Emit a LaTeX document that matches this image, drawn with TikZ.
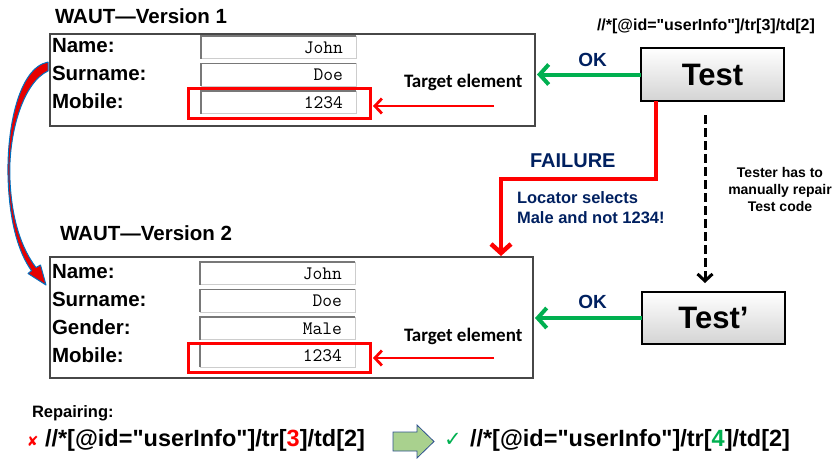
\documentclass[tikz,border=0pt]{standalone}
\usepackage{fontspec}
\setmainfont{Liberation Sans}
\newfontfamily\xpfont{Liberation Sans}[Ligatures=TeXOff]
\newfontfamily\calfont{Carlito}
\newfontfamily\symfont{DejaVu Sans}
\usetikzlibrary{arrows.meta}

\definecolor{navy}{RGB}{0,32,96}
\definecolor{okgreen}{RGB}{0,176,80}
\definecolor{curvered}{RGB}{230,0,0}
\definecolor{curveblue}{RGB}{0,112,192}
\definecolor{blockgreen}{RGB}{169,209,142}
\definecolor{blockedge}{RGB}{47,82,143}
\definecolor{fieldlight}{RGB}{205,205,205}
\definecolor{fielddark}{RGB}{120,120,120}

\newcommand\fsz[1]{\fontsize{#1}{#1}\selectfont}

% an input field: left x, top y, value, node name
\newcommand\inputfield[4]{%
  \filldraw[fill=white,draw=fieldlight,line width=1pt] (#1,#2) rectangle ({#1+155},{#2+22.5});
  \draw[fielddark,line width=1.6pt] (#1,{#2+22.5}) -- (#1,#2) -- ({#1+155},#2);
  \node[anchor=base east,font=\ttfamily\fsz{19}] (#4) at ({#1+142},{#2+17}) {#3};
}

\begin{document}
\begin{tikzpicture}[x=1pt,y=-1pt,
  every node/.style={inner sep=0pt,outer sep=0pt},
  formbox/.style={draw=black!72,line width=1.2pt,fill=white},
  targetbox/.style={draw=red,line width=3pt},
  testbox/.style={draw=black,line width=1.6pt,top color=white,bottom color=black!17,
    font=\bfseries\fsz{31}},
  title/.style={anchor=base west,font=\bfseries\fsz{20.5}},
  flabel/.style={anchor=base west,font=\bfseries\fsz{20.5}},
  tgtlabel/.style={anchor=base west,font=\calfont\bfseries\fsz{19}},
  navytext/.style={text=navy,font=\bfseries\fsz{19}},
  note/.style={anchor=base,font=\bfseries\fsz{14}},
  xpath/.style={anchor=base west,font=\xpfont\bfseries\fsz{23.5}},
  okarrow/.style={draw=okgreen,line width=4pt,shorten >=2pt,
    -{Straight Barb[length=9pt,width=20pt]}},
  tgtarrow/.style={draw=red,line width=2.8pt,shorten >=3pt,
    -{Straight Barb[length=7pt,width=15pt]}},
  failarrow/.style={draw=red,line width=4.5pt,shorten >=1pt,
    -{Straight Barb[length=9pt,width=20pt]}},
  repairarrow/.style={draw=black,line width=3pt,dash pattern=on 9pt off 4pt,
    -{Straight Barb[length=7pt,width=15pt]}}
]
\useasboundingbox (0,0) rectangle (838,459);

% ---------- first version of the page ----------
\node[title] (v1title) at (55,23) {WAUT—Version 1};
\node[formbox,anchor=north west,minimum width=485pt,minimum height=92pt] (form1) at (50,34) {};
\node[flabel] (n1) at (52,52) {Name:};
\node[flabel] (s1) at (52,80) {Surname:};
\node[flabel] (m1) at (52,108) {Mobile:};
\inputfield{201}{36}{John}{fn1}
\inputfield{201}{63.5}{Doe}{fs1}
\inputfield{201}{91}{1234}{fm1}
\node[targetbox,anchor=north west,minimum width=182pt,minimum height=30pt] (t1) at (188,88) {};
\node[tgtlabel] (tl1) at (404,87) {Target element};
\coordinate (r1) at (494,106);
\draw[tgtarrow] (r1) -- (r1 -| t1.east);

% ---------- second version of the page ----------
\node[title] (v2title) at (60,240) {WAUT—Version 2};
\node[formbox,anchor=north west,minimum width=483pt,minimum height=121pt] (form2) at (50,257) {};
\node[flabel] (n2) at (52,278) {Name:};
\node[flabel] (s2) at (52,306) {Surname:};
\node[flabel] (g2) at (52,334) {Gender:};
\node[flabel] (m2) at (52,362) {Mobile:};
\inputfield{200}{262}{John}{fn2}
\inputfield{200}{289.5}{Doe}{fs2}
\inputfield{200}{317}{Male}{fg2}
\inputfield{200}{344.5}{1234}{fm2}
\node[targetbox,anchor=north west,minimum width=182pt,minimum height=29pt] (t2) at (188,343) {};
\node[tgtlabel] (tl2) at (404,341) {Target element};
\coordinate (r2) at (494,358);
\draw[tgtarrow] (r2) -- (r2 -| t2.east);

% ---------- curved arrow between the two versions ----------
\filldraw[fill=curvered,draw=curveblue,line width=1pt,line join=round]
  (48,62) .. controls (18,68) and (7,130) .. (8,175)
  .. controls (9,220) and (18,252) .. (31.5,270.7)
  -- (28,273.5) -- (46,285) -- (40.5,265) -- (36,267.5)
  .. controls (22,249) and (11,220) .. (9.8,175)
  .. controls (9,130) and (24,82) .. (48,71) -- cycle;

% ---------- tests ----------
\node[xpath,font=\xpfont\bfseries\fsz{16}] (xtop) at (597,30) {//*[@id="userInfo"]/tr[3]/td[2]};
\node[testbox,minimum width=143pt,minimum height=53pt] (test) at (712.5,74.5) {Test};
\node[testbox,minimum width=143pt,minimum height=52pt] (testp) at (713.5,318) {Test’};

\draw[okarrow] (test.west) -- (test.west -| form1.east);
\node[navytext,anchor=base] (ok1) at (592.5,66) {OK};
\draw[okarrow] (testp.west) -- (testp.west -| form2.east);
\node[navytext,anchor=base] (ok2) at (592.5,308) {OK};

\coordinate (fbend) at (501,179);
\draw[failarrow] ([xshift=15pt]test.south west) |- (fbend) -- (fbend |- form2.north);
\node[navytext,anchor=base west,font=\bfseries\fsz{20}] (fail) at (530,167) {FAILURE};
\node[anchor=base west,text=navy,font=\bfseries\fsz{16.5}] (loc1) at (517,203) {Locator selects};
\node[anchor=base west,text=navy,font=\bfseries\fsz{16.5}] (loc2) at (517,223) {Male and not 1234!};

\draw[repairarrow] ([shift={(-7.5,14)}]test.south) -- ([shift={(-8.5,-9)}]testp.north);
\node[note] (tn1) at (780,177) {Tester has to};
\node[note] (tn2) at (780,194) {manually repair};
\node[note] (tn3) at (780,211) {Test code};

% ---------- repairing the locator ----------
\node[anchor=base west,font=\bfseries\fsz{16.5}] (rep) at (32,417) {Repairing:};
\node[anchor=base west,text=red,font=\symfont\fsz{14}] (cross) at (27,446) {✘};
\node[xpath] (xold) at (45,446) {//*[@id="userInfo"]/tr[{\color{red}3}]/td[2]};
\filldraw[fill=blockgreen,draw=blockedge,line width=0.8pt]
  (393,432) -- (417,432) -- (417,425) -- (434,441.5) -- (417,458) -- (417,451) -- (393,451) -- cycle;
\node[anchor=base west,text=okgreen,font=\symfont\fsz{21}] (check) at (444,446) {✓};
\node[xpath] (xnew) at (470,446) {//*[@id="userInfo"]/tr[{\color{okgreen}4}]/td[2]};
\end{tikzpicture}
\end{document}
